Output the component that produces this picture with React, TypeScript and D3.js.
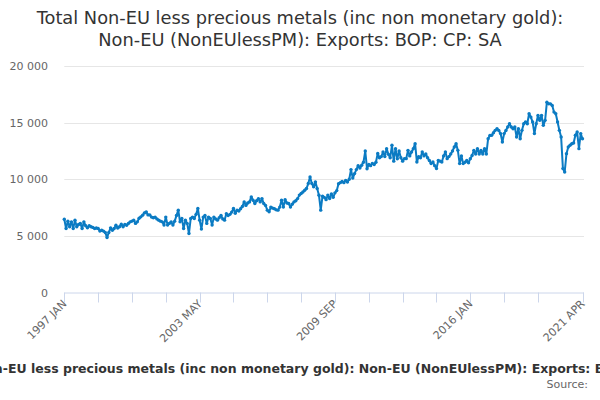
// Non-EU exports (less precious metals) - D3 line chart

import { useEffect, useRef } from "react";
import * as d3 from "d3";

const titleLines = [
  "Total Non-EU less precious metals (inc non monetary gold):",
  "Non-EU (NonEUlessPM): Exports: BOP: CP: SA",
];
const captionText =
  "Total Non-EU less precious metals (inc non monetary gold): Non-EU (NonEUlessPM): Exports: BOP: CP: SA";
const sourceText = "Source:";

const startYear = 1997;
const monthNames = ["JAN", "FEB", "MAR", "APR", "MAY", "JUN", "JUL", "AUG", "SEP", "OCT", "NOV", "DEC"];

// monthly values, £m
const values1997to2004 = [
  6470, 5650, 6300, 5800, 6240, 5650, 6390, 5800, 6000, 6100, 5650, 6240,
  5900, 5710, 5900, 5800, 5750, 5650, 5700, 5650, 5420, 5500, 5420, 5300,
  4850, 5300, 5710, 5500, 5650, 5940, 5700, 5800, 6030, 5800, 6000, 5940,
  6100, 6240, 6300, 6390, 6100, 6240, 6550, 6680, 6830, 7030, 7120, 6850,
  6850, 6660, 6600, 6660, 6500, 6390, 6300, 6240, 5950, 6660, 5950, 6100,
  6240, 5950, 6300, 6800, 7270, 6240, 6540, 5650, 6390, 6100, 5210, 6540,
  6660, 6540, 6900, 7420, 6390, 5600, 6660, 6800, 6100, 6660, 6540, 5950,
  6660, 6500, 6390, 6600, 6800, 6500, 6390, 6950, 6800, 6900, 7100, 7420,
];
const values2005to2012 = [
  7000, 7270, 7200, 7400, 7600, 8000, 7690, 7900, 8000, 8440, 8150, 7860,
  8100, 8290, 8000, 8290, 7860, 7690, 7270, 7120, 7540, 7450, 7400, 7300,
  7270, 7540, 8150, 7540, 8200, 7900, 7860, 7540, 7800, 8000, 8100, 8290,
  8600, 8740, 8880, 9030, 9180, 9620, 10200, 9620, 9330, 9770, 9180, 8590,
  7270, 8500, 8400, 8200, 8600, 8300, 8700, 8400, 8800, 9000, 9600, 9700,
  9800, 9700, 9900, 9750, 10000, 10850, 10100, 10500, 10850, 11200, 11000, 11230,
  11500, 12490, 10930, 11300, 11200, 11400, 11300, 11500, 12280, 11900, 12000, 12400,
  12000, 12700, 12200, 11900, 13000, 11600, 12700, 11800, 12500, 11900, 11600, 11820,
];
const values2013to2021 = [
  11820, 12550, 12060, 12400, 12700, 13140, 11520, 12000, 11900, 12400, 12060, 12230,
  11900, 11650, 11380, 11520, 11200, 10940, 11650, 11600, 11520, 12060, 12400, 11820,
  12000, 12230, 12500, 12850, 13140, 12550, 11380, 12060, 11380, 11500, 11650, 11450,
  11820, 12100, 12550, 12230, 12700, 12230, 12550, 12230, 12700, 12230, 13580, 13870,
  13880, 14100, 14320, 14460, 14300, 14030, 13290, 14030, 14300, 14610, 14900, 14610,
  14460, 14610, 13730, 14460, 13580, 14320, 14900, 15050, 14900, 15790, 15490, 15050,
  14030, 14900, 15640, 15200, 15640, 14760, 15200, 16810, 16660, 16660, 16520, 15930,
  15790, 15050, 14320, 13730, 10940, 10640, 12260, 12850, 13000, 13140, 13200, 13880,
  14170, 12700, 14030, 13580,
];

const exportsValues = [...values1997to2004, ...values2005to2012, ...values2013to2021];
const months = exportsValues.map(
  (_, i) => `${startYear + Math.floor(i / 12)} ${monthNames[i % 12]}`
);

const yTicks = [0, 5000, 10000, 15000, 20000];
const xLabelMonths = ["1997 JAN", "2003 MAY", "2009 SEP", "2016 JAN", "2021 APR"];
const tickStep = 19;

export default function App() {
  const svgRef = useRef<SVGSVGElement>(null);
  const width = 600;
  const height = 400;

  useEffect(() => {
    if (!svgRef.current) return;
    const svg = d3.select(svgRef.current);
    svg.selectAll("*").remove();

    const font = "'DejaVu Sans', Verdana, sans-serif";
    const left = 64.3;
    const right = 582.5;
    const top = 66;
    const bottom = 292.5;
    const blue = "#0b7bc3";

    const x = d3.scaleLinear().domain([0, months.length - 1]).range([left, right]);
    const y = d3.scaleLinear().domain([0, 20000]).range([bottom, top]);
    const fmt = (v: number) => d3.format(",")(v).replace(/,/g, " ");

    // title
    svg
      .append("g")
      .selectAll("text")
      .data(titleLines)
      .enter()
      .append("text")
      .attr("x", width / 2)
      .attr("y", (d, i) => 24 + i * 22)
      .attr("text-anchor", "middle")
      .attr("fill", "#333333")
      .style("font-family", font)
      .style("font-size", "17.8px")
      .text((d) => d);

    // gridlines + y labels
    const yAxis = svg.append("g");
    yAxis
      .selectAll("line")
      .data(yTicks.filter((t) => t > 0))
      .enter()
      .append("line")
      .attr("x1", left)
      .attr("x2", 584)
      .attr("y1", (d) => Math.round(y(d)) + 0.5)
      .attr("y2", (d) => Math.round(y(d)) + 0.5)
      .attr("stroke", "#e6e6e6")
      .attr("stroke-width", 1);
    yAxis
      .selectAll("text")
      .data(yTicks)
      .enter()
      .append("text")
      .attr("x", 48)
      .attr("y", (d) => y(d) + 4)
      .attr("text-anchor", "end")
      .attr("fill", "#666666")
      .style("font-family", font)
      .style("font-size", "11px")
      .text((d) => fmt(d));

    // x axis
    const tickIdx = [...d3.range(0, months.length - tickStep, tickStep), months.length - 1];
    const xAxis = svg.append("g");
    xAxis
      .append("line")
      .attr("x1", left)
      .attr("x2", 584)
      .attr("y1", bottom + 0.5)
      .attr("y2", bottom + 0.5)
      .attr("stroke", "#ccd6eb");
    xAxis
      .selectAll(".tick")
      .data(tickIdx)
      .enter()
      .append("line")
      .attr("class", "tick")
      .attr("x1", (d) => Math.round(x(d)) + 0.5)
      .attr("x2", (d) => Math.round(x(d)) + 0.5)
      .attr("y1", bottom)
      .attr("y2", bottom + 10)
      .attr("stroke", "#ccd6eb");
    xAxis
      .selectAll(".lbl")
      .data(xLabelMonths)
      .enter()
      .append("text")
      .attr("class", "lbl")
      .attr("transform", (d) => `translate(${x(months.indexOf(d)) + 3},${bottom + 12}) rotate(-45)`)
      .attr("text-anchor", "end")
      .attr("fill", "#666666")
      .style("font-family", font)
      .style("font-size", "11px")
      .text((d) => d);

    // series line
    const line = d3
      .line<number>()
      .x((d, i) => x(i))
      .y((d) => y(d));
    svg
      .append("path")
      .datum(exportsValues)
      .attr("d", line)
      .attr("fill", "none")
      .attr("stroke", blue)
      .attr("stroke-width", 2)
      .attr("stroke-linejoin", "round");
    svg
      .append("g")
      .selectAll("circle")
      .data(exportsValues)
      .enter()
      .append("circle")
      .attr("cx", (d, i) => x(i))
      .attr("cy", (d) => y(d))
      .attr("r", 1.7)
      .attr("fill", blue);

    // caption (wider than the chart, clipped at both edges) + source
    svg
      .append("text")
      .attr("x", 308)
      .attr("y", 373)
      .attr("text-anchor", "middle")
      .attr("fill", "#333333")
      .style("font-family", font)
      .style("font-size", "12.5px")
      .style("font-weight", "bold")
      .text(captionText);
    svg
      .append("text")
      .attr("x", 588)
      .attr("y", 388)
      .attr("text-anchor", "end")
      .attr("fill", "#666666")
      .style("font-family", font)
      .style("font-size", "11px")
      .text(sourceText);
  }, []);

  return (
    <svg
      ref={svgRef}
      width={width}
      height={height}
      style={{ position: "absolute", left: 0, top: 0, background: "#ffffff" }}
    />
  );
}
